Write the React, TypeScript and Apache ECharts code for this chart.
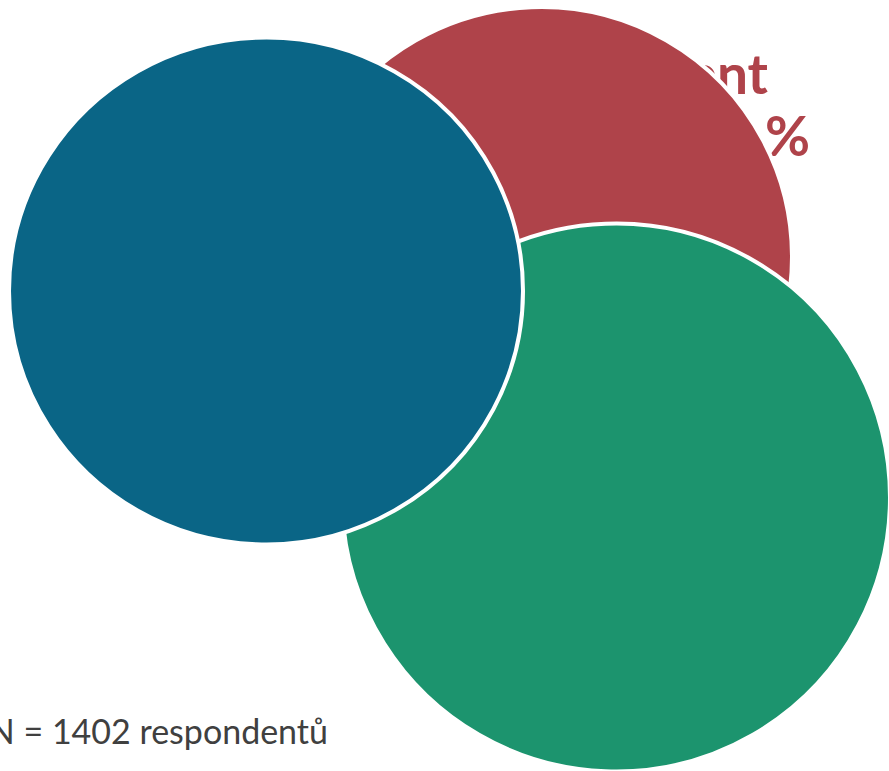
import React, { useEffect, useRef } from "react";
import * as echarts from "echarts";

// Circles (red bottom, green middle, blue top), in page pixel units
const circleNames = ["Student", "Zaměstnanec", "Podnikatel"];
const centerX = [541, 616, 266];
const centerY = [257, 497.5, 291];
const diameterW = [502, 548, 514];
const diameterH = [500, 548, 507];
const circleColors = ["#AF434A", "#1C946E", "#0A6586"];

// Label of the red circle (same colour as the circle)
const redLabelLines = ["Student", "18 %"];
const footnote = "N = 1402 respondentů";

export default function App() {
  const ref = useRef<HTMLDivElement>(null);
  useEffect(() => {
    document.body.style.margin = "0";
    if (!ref.current) return;
    const chart = echarts.init(ref.current, undefined, { renderer: "svg" });
    const series = circleNames.map((name, i) => ({
      type: "scatter",
      name,
      silent: true,
      z: 2 + i,
      symbol: "circle",
      symbolSize: (v: number[]) => [v[2], v[3]],
      itemStyle: { color: circleColors[i], borderColor: "#ffffff", borderWidth: 4, opacity: 1 },
      emphasis: { disabled: true },
      data: [[centerX[i], centerY[i], diameterW[i], diameterH[i]]],
    }));
    chart.setOption({
      animation: false,
      grid: { left: 0, right: 0, top: 0, bottom: 0 },
      xAxis: { type: "value", min: 0, max: 889, show: false },
      yAxis: { type: "value", min: 0, max: 771, inverse: true, show: false },
      series,
      graphic: [
        {
          type: "text",
          z: 1,
          x: 768,
          y: 73,
          style: {
            text: redLabelLines[0],
            fill: circleColors[0],
            font: "bold 55px Lato",
            align: "right",
            verticalAlign: "middle",
          },
        },
        {
          type: "text",
          z: 1,
          x: 810,
          y: 135,
          style: {
            text: redLabelLines[1],
            fill: circleColors[0],
            font: "bold 55px Lato",
            align: "right",
            verticalAlign: "middle",
          },
        },
        {
          type: "text",
          z: 10,
          x: 328,
          y: 730,
          style: {
            text: footnote,
            fill: "#404040",
            font: "34px Lato",
            align: "right",
            verticalAlign: "middle",
          },
        },
      ],
    });
    return () => chart.dispose();
  }, []);
  return <div ref={ref} style={{ width: 889, height: 771 }} />;
}
